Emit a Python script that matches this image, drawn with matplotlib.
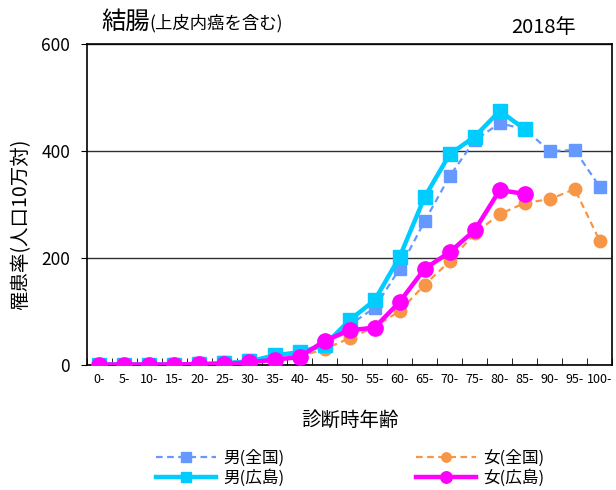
import numpy as np
import matplotlib.pyplot as plt

plt.rcParams['font.family'] = ['Noto Sans CJK JP', 'DejaVu Sans']

ages = ["0-", "5-", "10-", "15-", "20-", "25-", "30-", "35-", "40-", "45-", "50-",
        "55-", "60-", "65-", "70-", "75-", "80-", "85-", "90-", "95-", "100-"]

male_japan = [1, 1, 1, 2, 3, 5, 9, 15, 22, 40, 75, 107, 180, 269, 353, 420, 452, 441, 400, 402, 333]
female_japan = [1, 1, 1, 2, 3, 5, 8, 13, 16, 30, 50, 71, 101, 150, 194, 246, 282, 303, 310, 329, 232]
male_hiro = [1, 1, 1, 1, 2, 3, 7, 18, 24, 37, 84, 121, 202, 314, 394, 427, 475, 441]
female_hiro = [1, 1, 1, 1, 2, 2, 5, 10, 15, 45, 65, 70, 118, 180, 211, 252, 327, 320]

x = np.arange(len(ages))

fig = plt.figure(figsize=(6.16, 4.9), dpi=100)
ax = fig.add_axes([0.141, 0.255, 0.853, 0.655])

ax.plot(x, male_japan, 's--', color='#6699FF', lw=1.6, ms=9, dashes=(3, 2), label='男(全国)', zorder=3)
ax.plot(x[:len(male_hiro)], male_hiro, 's-', color='#00CCFF', lw=3.2, ms=10, label='男(広島)', zorder=4)
ax.plot(x, female_japan, 'o--', color='#F79646', lw=1.6, ms=9, dashes=(3, 2), label='女(全国)', zorder=3)
ax.plot(x[:len(female_hiro)], female_hiro, 'o-', color='#FF00FF', lw=3.2, ms=11, label='女(広島)', zorder=5)

ax.set_xlim(-0.5, len(ages) - 0.5)
ax.set_ylim(0, 600)
ax.set_yticks([0, 200, 400, 600])
ax.tick_params(axis='y', labelsize=12.5, length=4, direction='out', pad=8)
ax.set_xticks(x)
ax.set_xticklabels(ages, fontsize=9)
ax.tick_params(axis='x', length=0, pad=6)
ax.set_xticks(np.arange(-0.5, len(ages)), minor=True)
ax.tick_params(axis='x', which='minor', direction='in', length=5)
ax.grid(axis='y', color='#303030', lw=1)
ax.set_axisbelow(True)
for s in ax.spines.values():
    s.set_linewidth(1.2)

ax.set_xlabel('診断時年齢', fontsize=14, labelpad=17)
ax.set_ylabel('罹患率(人口10万対)', fontsize=14)
ax.yaxis.set_label_coords(-0.106, 0.44)

fig.text(0.165, 0.955, '結腸', fontsize=17.5, va='center', ha='left')
fig.text(0.243, 0.952, '(上皮内癌を含む)', fontsize=12.5, va='center', ha='left')
fig.text(0.935, 0.943, '2018年', fontsize=14.5, va='center', ha='right')

fig.legend(loc='upper left', bbox_to_anchor=(0.24, 0.1), ncol=2, frameon=False,
           borderpad=0, fontsize=12, columnspacing=7.95, handlelength=3.6,
           handletextpad=0.4, labelspacing=0.15, markerscale=0.75)

plt.savefig('out.png', dpi=100)
